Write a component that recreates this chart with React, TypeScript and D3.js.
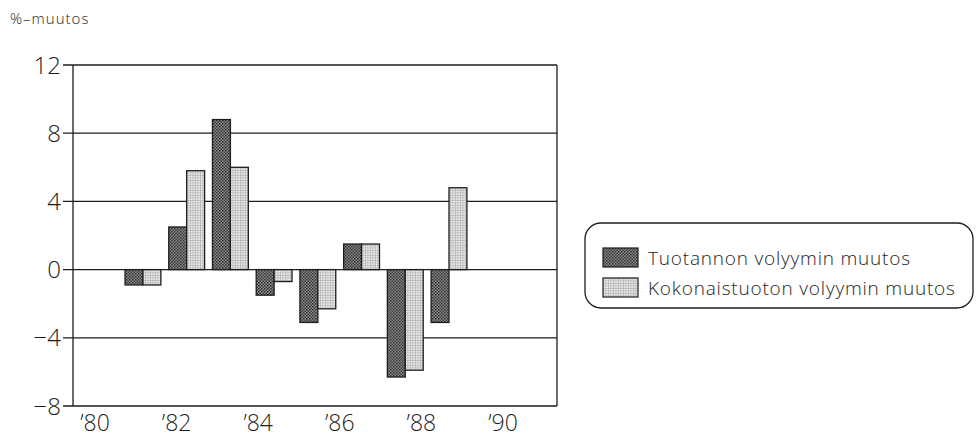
import React from "react";
import * as d3 from "d3";

const years = [81, 82, 83, 84, 85, 86, 87, 88];
const tuotanto = [-0.9, 2.5, 8.8, -1.5, -3.1, 1.5, -6.3, -3.1];
const kokonais = [-0.9, 5.8, 6.0, -0.7, -2.3, 1.5, -5.9, 4.8];
const yTicks = [-8, -4, 0, 4, 8, 12];
const xLabels = [80, 82, 84, 86, 88, 90];
const seriesNames = ["Tuotannon volyymin muutos", "Kokonaistuoton volyymin muutos"];

const W = 976;
const H = 442;
const left = 73;
const right = 557;
const top = 65;
const bottom = 406;
const FONT = "'Open Sans', 'DejaVu Sans', sans-serif";

export default function App() {
  const x = d3.scaleLinear().domain([79.4, 90.47]).range([left, right]);
  const xLab = d3.scaleLinear().domain([80, 90]).range([95, 503]);
  const y = d3.scaleLinear().domain([-8, 12]).range([bottom, top]);
  const unit = x(1) - x(0);
  const bw = unit * 0.41;
  const ink = "#1e1e1e";

  const bar = (v: number, cx: number, fill: string, key: string) => {
    const y0 = y(0);
    const yv = y(v);
    return (
      <rect
        key={key}
        x={cx}
        y={Math.min(y0, yv)}
        width={bw}
        height={Math.abs(yv - y0)}
        fill={fill}
        stroke={ink}
        strokeWidth={1.3}
      />
    );
  };

  return (
    <svg
      width={W}
      height={H}
      style={{ position: "absolute", left: 0, top: 0, background: "#fff" }}
    >
      <defs>
        <pattern id="dark" width="3" height="3" patternUnits="userSpaceOnUse">
          <rect width="3" height="3" fill="#8c8c8c" />
          <rect x="0" y="0" width="1.5" height="1.5" fill="#2e2e2e" />
          <rect x="1.5" y="1.5" width="1.5" height="1.5" fill="#3a3a3a" />
        </pattern>
        <pattern id="light" width="2.5" height="2.5" patternUnits="userSpaceOnUse">
          <rect width="2.5" height="2.5" fill="#ececec" />
          <rect x="0" y="0" width="2.5" height="0.8" fill="#b8b8b8" />
          <rect x="0" y="0" width="0.8" height="2.5" fill="#b8b8b8" />
        </pattern>
      </defs>

      <text x={10} y={24} fontFamily={FONT} fontWeight={300} fontSize={15} letterSpacing={1} fill={ink}>
        %–muutos
      </text>

      {/* grid lines and ticks */}
      {yTicks.map((t) => (
        <g key={t}>
          <line x1={left - 10} x2={right} y1={y(t)} y2={y(t)} stroke={ink} strokeWidth={1.3} />
          <text
            x={left - 12}
            y={y(t)}
            dy="0.36em"
            textAnchor="end"
            fontFamily={FONT}
            fontWeight={300}
            fontSize={24}
            fill={ink}
          >
            {t < 0 ? "\u2212" + Math.abs(t) : t}
          </text>
        </g>
      ))}
      <line x1={left} x2={left} y1={top} y2={bottom} stroke={ink} strokeWidth={1.3} />
      <line x1={right} x2={right} y1={top} y2={bottom} stroke={ink} strokeWidth={1.3} />

      {/* bars */}
      {years.map((yr, i) => (
        <g key={yr}>
          {bar(tuotanto[i], x(yr) - bw, "url(#dark)", "a")}
          {bar(kokonais[i], x(yr), "url(#light)", "b")}
        </g>
      ))}

      {/* x labels */}
      {xLabels.map((l) => (
        <text
          key={l}
          x={xLab(l)}
          y={431}
          textAnchor="middle"
          fontFamily={FONT}
          fontWeight={300}
          fontSize={23}
          fill={ink}
        >
          {"\u2019" + l}
        </text>
      ))}

      {/* legend */}
      <rect x={585} y={223} width={388} height={85} rx={16} fill="none" stroke={ink} strokeWidth={1.3} />
      {seriesNames.map((n, i) => (
        <g key={n} transform={`translate(603, ${248 + i * 30})`}>
          <rect
            width={35}
            height={19}
            fill={i === 0 ? "url(#dark)" : "url(#light)"}
            stroke={ink}
            strokeWidth={1.2}
          />
          <text
            x={45}
            y={10}
            dy="0.36em"
            fontFamily={FONT}
            fontWeight={300}
            fontSize={19}
            letterSpacing={0.8}
            fill={ink}
          >
            {n}
          </text>
        </g>
      ))}
    </svg>
  );
}
